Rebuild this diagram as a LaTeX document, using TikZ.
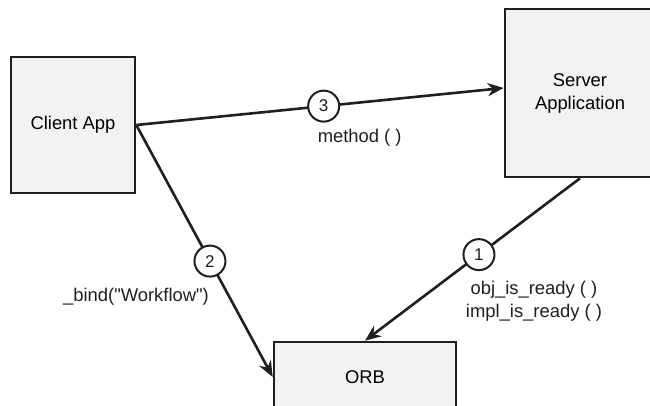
\documentclass[tikz,border=0pt]{standalone}
\usepackage{fontspec}
\setmainfont{Liberation Sans}
\setsansfont{Liberation Sans}
\usetikzlibrary{positioning,arrows.meta}

\begin{document}
\begin{tikzpicture}[
  x=1pt,y=1pt,
  font=\fontsize{18.4}{23}\selectfont,
  box/.style={rectangle,draw=black!88,line width=2.6pt,fill=black!5,
              align=center,inner sep=0pt},
  num/.style={circle,draw=black!88,line width=2pt,fill=white,
              minimum size=31pt,inner sep=0pt,font=\fontsize{17}{20}\selectfont},
  arr/.style={-{Stealth[length=16pt,width=13pt]},line width=2.6pt,black!88},
  lbl/.style={align=center,inner sep=0pt,black!88},
]
\useasboundingbox (0,0) rectangle (650,-406);
\clip (0,0) rectangle (650,-406);

% ===== components =====
\node[box,minimum width=124pt,minimum height=136pt] (client) at (73,-125) {Client App};
\node[box,minimum width=150pt,minimum height=168pt] (server) at (580,-93) {Server\\Application};
\node[box,minimum width=182pt,minimum height=70pt] (orb) at (365,-377) {ORB};

% ===== numbered calls =====
\draw[arr] (server.south) -- node[num,pos=0.47] (n1) {1} (orb.north);
\draw[arr] (client.east) -- node[num,pos=0.54] (n2) {2} (orb.west);
\draw[arr] (client.east) -- node[num,pos=0.51] (n3) {3} ([yshift=5pt]server.west);

% call labels
\node[lbl,below=10pt of n1,xshift=55pt] (m1) {obj\_is\_ready ( )\\impl\_is\_ready ( )};
\node[lbl,below=10pt of n2,xshift=-74pt] (m2) {\_bind(\textquotedbl Workflow\textquotedbl)};
\node[lbl,below=6pt of n3,xshift=36pt] (m3) {method ( )};
\end{tikzpicture}
\end{document}
